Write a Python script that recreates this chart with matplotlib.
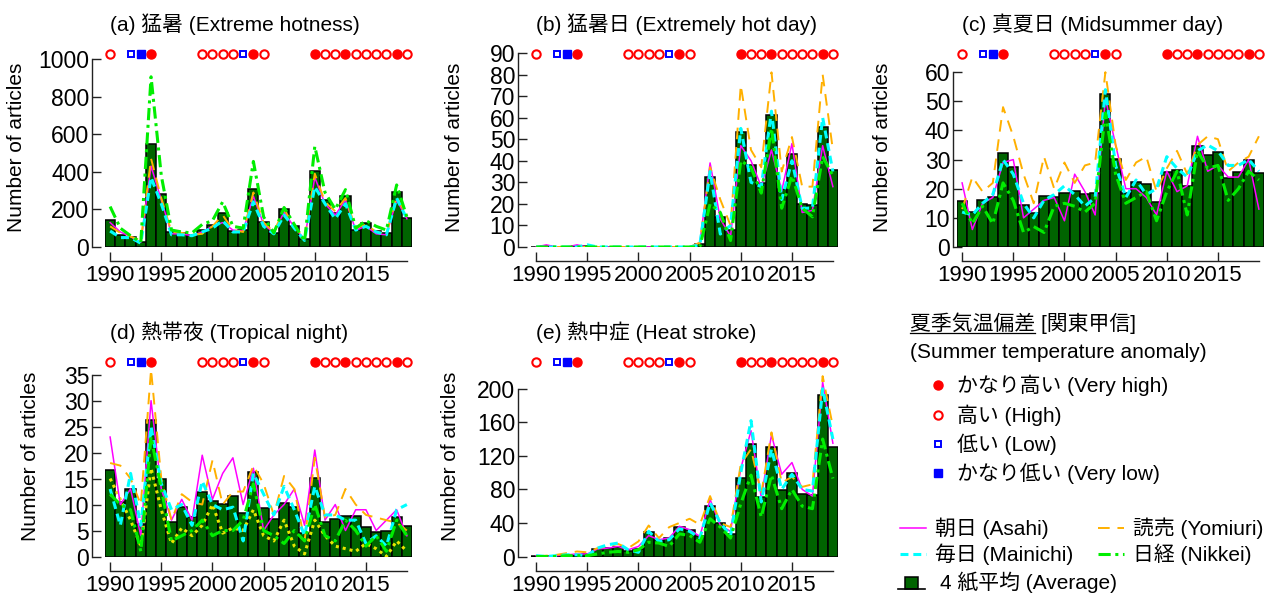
import matplotlib
matplotlib.use("Agg")
import matplotlib.pyplot as plt
import numpy as np
from matplotlib.transforms import blended_transform_factory
from matplotlib.patches import Rectangle

plt.rcParams["font.family"] = ["Liberation Sans", "Noto Sans CJK JP"]

YEARS = np.arange(1990, 2020)

# Summer temperature anomaly, Kanto-Koshin (VH / H / N / L / VL)
ANOMALY = ["H", "N", "L", "VL", "VH", "N", "N", "N", "N", "H",
           "H", "H", "H", "L", "VH", "H", "N", "N", "N", "N",
           "VH", "H", "H", "VH", "H", "H", "H", "H", "VH", "H"]

# (a) 猛暑
A_AVG = [142, 65, 55, 25, 550, 282, 80, 75, 66, 92,
         119, 181, 83, 92, 308, 131, 75, 202, 110, 43,
         402, 248, 181, 270, 92, 128, 87, 75, 291, 154]
A_ASAHI = [130, 80, 55, 25, 430, 250, 70, 70, 60, 80,
           110, 130, 90, 85, 270, 120, 75, 185, 105, 40,
           370, 230, 170, 250, 90, 110, 70, 65, 250, 150]
A_YOMIURI = [110, 75, 55, 35, 470, 260, 80, 75, 65, 70,
             110, 170, 90, 80, 290, 130, 80, 200, 110, 45,
             390, 240, 190, 260, 100, 120, 80, 70, 270, 160]
A_MAINICHI = [85, 50, 50, 20, 370, 230, 65, 65, 60, 80,
              100, 140, 80, 80, 240, 110, 70, 170, 100, 35,
              320, 230, 150, 230, 90, 110, 80, 65, 260, 150]
A_NIKKEI = [215, 100, 60, 25, 905, 380, 90, 80, 75, 120,
            140, 240, 110, 100, 455, 160, 75, 210, 120, 30,
            535, 290, 200, 305, 100, 140, 110, 90, 330, 160]

# (b) 猛暑日
B_AVG = [0, 0.3, 0, 0, 0.3, 0.3, 0, 0, 0, 0,
         0, 0, 0, 0, 0, 0.2, 1.3, 32.5, 14, 8,
         53.5, 38, 29.5, 61, 27, 43, 20, 19.5, 55.5, 35.5]
B_ASAHI = [0, 1, 0, 0, 1, 0, 0, 0, 0, 0,
           0, 0, 0, 0, 0, 0, 2, 39, 13, 5,
           47, 40, 28, 45, 26, 48, 16, 17, 47, 28]
B_YOMIURI = [0, 0, 0, 0, 0, 0, 0, 0, 0, 0,
             0, 0, 0, 0, 0, 0, 2, 37, 22, 10,
             75, 45, 37, 81, 35, 51, 28, 28, 80, 45]
B_MAINICHI = [0, 0, 0, 0, 0, 1, 0, 0, 0, 0,
              0, 0, 0, 0, 0, 0, 1, 35, 6, 10,
              55, 30, 28, 63, 22, 40, 18, 18, 60, 35]
B_NIKKEI = [0, 0, 0, 0, 0, 0, 0, 0, 0, 0,
            0, 0, 0, 0, 0, 0, 0, 20, 16, 3,
            40, 37, 25, 55, 18, 33, 18, 14, 42, 33]

# (c) 真夏日
C_AVG = [15.9, 12.1, 16.2, 17.1, 32.2, 27.3, 14.5, 11.7, 17.4, 17.0,
         18.7, 19.2, 18.3, 18.5, 52.5, 30.2, 18.5, 22.2, 21.6, 15.3,
         25.7, 26.3, 20.8, 34.7, 31.7, 32.5, 23.7, 25.9, 29.9, 25.3]
C_ASAHI = [22, 6, 15, 17, 29, 30, 10, 13, 16, 17,
           9, 25, 19, 11, 51, 35, 20, 20, 17, 11,
           26, 19, 21, 38, 26, 28, 24, 24, 30, 13]
C_YOMIURI = [13, 24, 19, 22, 48, 38, 25, 15, 31, 20,
             29, 22, 28, 29, 60, 35, 23, 29, 31, 19,
             27, 33, 25, 35, 38, 37, 26, 29, 31, 38]
C_MAINICHI = [12, 11, 15, 18, 30, 25, 15, 10, 16, 18,
              21, 18, 14, 17, 54, 28, 17, 23, 18, 20,
              31, 27, 24, 33, 35, 33, 28, 28, 30, 26]
C_NIKKEI = [15, 8, 14, 8, 22, 16, 5, 7, 5, 14,
            15, 14, 12, 15, 46, 25, 15, 17, 19, 9,
            19, 26, 11, 33, 27, 28, 16, 20, 26, 23]

# (d) 熱帯夜
D_AVG = [16.7, 10.4, 13.0, 6.3, 26.2, 14.9, 6.6, 9.5, 7.7, 12.5,
         10.6, 10.1, 11.7, 8.3, 16.2, 9.3, 7.2, 10.3, 9.5, 4.5,
         15.1, 6.6, 7.2, 7.8, 7.8, 5.7, 4.8, 5.0, 7.7, 5.8]
D_ASAHI = [23, 10, 13, 4, 30, 13, 7, 11, 7, 19.5,
           11, 16, 19, 10, 17, 5, 8, 10, 13, 6,
           20.5, 7, 10, 5, 9, 9, 5, 7, 9, 4]
D_YOMIURI = [18, 17.5, 15, 10, 36, 15, 7, 12, 10.5, 10,
             18.5, 10, 12.5, 12.5, 17.5, 14, 8, 15.5, 13, 3,
             19, 7.5, 8, 13, 10, 8, 7.5, 7, 6.5, 5]
D_MAINICHI = [13, 6, 16, 6, 25, 14, 9, 10, 6, 14.5,
              10, 9, 9.5, 3, 16, 12, 8, 13.5, 9, 4,
              13.5, 8, 8, 7, 7, 2.5, 4, 2, 9, 10]
D_NIKKEI = [12, 10, 9, 1, 23, 13, 3, 4, 5, 7,
            4, 5, 5, 7, 14, 5, 4, 2.5, 5, 3,
            10, 4, 3, 7, 5, 2, 4, 1, 7, 4]
D_YELLOW = [15, 11, 7, 2, 17, 9, 2.5, 5.5, 4, 6,
            10, 4.5, 5.5, 5, 9, 4, 3, 7, 2, 0.5,
            7, 4, 2, 1.5, 1, 2.5, 1.5, 0, 3, 1]

# (e) 熱中症
E_AVG = [1, 0.5, 1, 2, 2, 3, 9, 10, 11, 7,
         9, 29, 20, 22, 35, 32, 25, 60, 40, 27,
         94, 134, 71, 130, 79, 99, 74, 73, 192, 130]
E_ASAHI = [1, 0, 1, 2, 3, 3, 9, 10, 12, 8,
           12, 25, 20, 22, 36, 32, 24, 68, 37, 30,
           105, 150, 70, 145, 98, 112, 80, 72, 208, 135]
E_YOMIURI = [0, 1, 2, 4, 6, 5, 10, 12, 15, 10,
             18, 37, 22, 35, 40, 45, 38, 72, 40, 35,
             110, 128, 75, 148, 88, 95, 83, 86, 215, 155]
E_MAINICHI = [1, 0, 1, 2, 2, 1, 10, 14, 16, 8,
              5, 30, 18, 20, 33, 30, 22, 64, 40, 25,
              100, 162, 65, 128, 80, 98, 80, 78, 200, 140]
E_NIKKEI = [0, 0, 0, 1, 1, 1, 3, 5, 6, 5,
            8, 17, 16, 12, 27, 25, 17, 45, 35, 22,
            63, 97, 47, 97, 57, 80, 60, 57, 140, 93]

TITLES = ["(a) 猛暑 (Extreme hotness)", "(b) 猛暑日 (Extremely hot day)",
          "(c) 真夏日 (Midsummer day)", "(d) 熱帯夜 (Tropical night)",
          "(e) 熱中症 (Heat stroke)"]

W, H = 1273, 594
fig = plt.figure(figsize=(W / 100, H / 100), dpi=100)

BAR_COLOR = "#006400"
AXIS_COLOR = "#222222"
STYLES = {
    "asahi":    dict(color="#FF00FF", lw=1.1, ls="-"),
    "yomiuri":  dict(color="#FFB000", lw=1.4, dashes=(6, 4)),
    "mainichi": dict(color="#00FFFF", lw=2.2, dashes=(2.6, 1.6)),
    "nikkei":   dict(color="#00EE00", lw=2.2, dashes=(4, 1.5, 1, 1.5)),
    "yellow":   dict(color="#E6E600", lw=2.2, dashes=(1, 1.3)),
}
MARKERS = {
    "VH": dict(marker="o", ms=6.5, mfc="#FF0000", mec="#FF0000", mew=1),
    "H":  dict(marker="o", ms=6, mfc="white", mec="#FF0000", mew=1.5),
    "L":  dict(marker="s", ms=4.6, mfc="white", mec="#0000FF", mew=1.4),
    "VL": dict(marker="s", ms=5.2, mfc="#0000FF", mec="#0000FF", mew=1),
}

# panel layout in pixels: left, top, right, bottom, y-spine offset, ylabel x
panels = [
    dict(box=(105, 48, 412, 247), yoff=13, ylx=17, ymax=1058,
         yticks=np.arange(0, 1001, 200), avg=A_AVG,
         lines=[("asahi", A_ASAHI), ("yomiuri", A_YOMIURI),
                ("mainichi", A_MAINICHI), ("nikkei", A_NIKKEI)]),
    dict(box=(531, 48, 838, 247), yoff=13, ylx=455, ymax=92.3,
         yticks=np.arange(0, 91, 10), avg=B_AVG,
         lines=[("asahi", B_ASAHI), ("yomiuri", B_YOMIURI),
                ("mainichi", B_MAINICHI), ("nikkei", B_NIKKEI)]),
    dict(box=(957, 48, 1264, 247), yoff=4, ylx=882, ymax=68.3,
         yticks=np.arange(0, 61, 10), avg=C_AVG,
         lines=[("asahi", C_ASAHI), ("yomiuri", C_YOMIURI),
                ("mainichi", C_MAINICHI), ("nikkei", C_NIKKEI)]),
    dict(box=(105, 356, 412, 556.5), yoff=13, ylx=31, ymax=38.6,
         yticks=np.arange(0, 36, 5), avg=D_AVG,
         lines=[("yellow", D_YELLOW), ("asahi", D_ASAHI), ("yomiuri", D_YOMIURI),
                ("mainichi", D_MAINICHI), ("nikkei", D_NIKKEI)]),
    dict(box=(531, 356, 838, 556.5), yoff=13, ylx=451, ymax=239,
         yticks=np.arange(0, 201, 40), avg=E_AVG,
         lines=[("asahi", E_ASAHI), ("yomiuri", E_YOMIURI),
                ("mainichi", E_MAINICHI), ("nikkei", E_NIKKEI)]),
]

for p, title in zip(panels, TITLES):
    l, t, r, b = p["box"]
    ax = fig.add_axes([l / W, 1 - b / H, (r - l) / W, (b - t) / H])
    ax.patch.set_alpha(0)
    ax.bar(YEARS, p["avg"], width=1.0, color=BAR_COLOR, edgecolor="black",
           linewidth=1.1, zorder=2)
    for key, vals in p["lines"]:
        ax.plot(YEARS, vals, zorder=3, **STYLES[key])

    ax.set_xlim(1989.5, 2019.5)
    ax.set_ylim(0, p["ymax"])
    ax.set_xticks(np.arange(1990, 2016, 5))
    ax.set_yticks(p["yticks"])
    for s in ("top", "right"):
        ax.spines[s].set_visible(False)
    ax.spines["left"].set_position(("outward", p["yoff"] * 0.72))
    ax.spines["bottom"].set_position(("outward", 14 * 0.72))
    ax.spines["left"].set_bounds(0, p["yticks"][-1])
    ax.spines["bottom"].set_bounds(1990, 2019)
    for s in ("left", "bottom"):
        ax.spines[s].set_color(AXIS_COLOR)
        ax.spines[s].set_linewidth(1.0)
    ax.tick_params(direction="in", length=6.5, width=1.0, color=AXIS_COLOR)
    ax.tick_params(axis="y", pad=2, labelsize=16.5)
    ax.tick_params(axis="x", pad=3, labelsize=16)

    # temperature anomaly markers above the bars
    mtrans = blended_transform_factory(ax.transData, ax.transAxes)
    for cat, style in MARKERS.items():
        xs = [y for y, c in zip(YEARS, ANOMALY) if c == cat]
        ax.plot(xs, [1 - 5.5 / (b - t)] * len(xs), ls="none", transform=mtrans,
                clip_on=False, zorder=4, **style)

    ttrans = blended_transform_factory(ax.transData, fig.transFigure)
    ax.text(1990, 1 - (t - 24) / H, title, transform=ttrans, ha="left",
            va="center", fontsize=15)
    fig.text(p["ylx"] / W, 1 - (t + b) / 2 / H, "Number of articles",
             rotation=90, ha="center", va="center", fontsize=15)

# legend area drawn in pixel coordinates
lg = fig.add_axes([0, 0, 1, 1])
lg.set_xlim(0, W)
lg.set_ylim(H, 0)
lg.axis("off")

lg.text(910, 323, "夏季気温偏差 [関東甲信]", fontsize=15, va="center", ha="left")
lg.plot([910, 1035], [333, 333], color="black", lw=0.9)
lg.text(910, 352, "(Summer temperature anomaly)", fontsize=15, va="center", ha="left")
anom_labels = [("VH", "かなり高い (Very high)"), ("H", "高い (High)"),
               ("L", "低い (Low)"), ("VL", "かなり低い (Very low)")]
for (cat, label), yy in zip(anom_labels, [385, 415, 444, 473]):
    lg.plot([938], [yy], ls="none", **MARKERS[cat])
    lg.text(957, yy, label, fontsize=15, va="center", ha="left")

paper_labels = [("asahi", "朝日 (Asahi)", 900, 528), ("yomiuri", "読売 (Yomiuri)", 1098, 528),
                ("mainichi", "毎日 (Mainichi)", 900, 554), ("nikkei", "日経 (Nikkei)", 1098, 554)]
for key, label, x0, yy in paper_labels:
    lg.plot([x0, x0 + 26], [yy, yy], **STYLES[key])
    lg.text(x0 + 35, yy, label, fontsize=15, va="center", ha="left")

lg.plot([898, 925], [589, 589], color="black", lw=1.2)
lg.add_patch(Rectangle((905, 577), 13, 12, facecolor=BAR_COLOR, edgecolor="black", lw=1.1))
lg.text(940, 582, "4 紙平均 (Average)", fontsize=15, va="center", ha="left")

fig.savefig("out.png", dpi=100)
